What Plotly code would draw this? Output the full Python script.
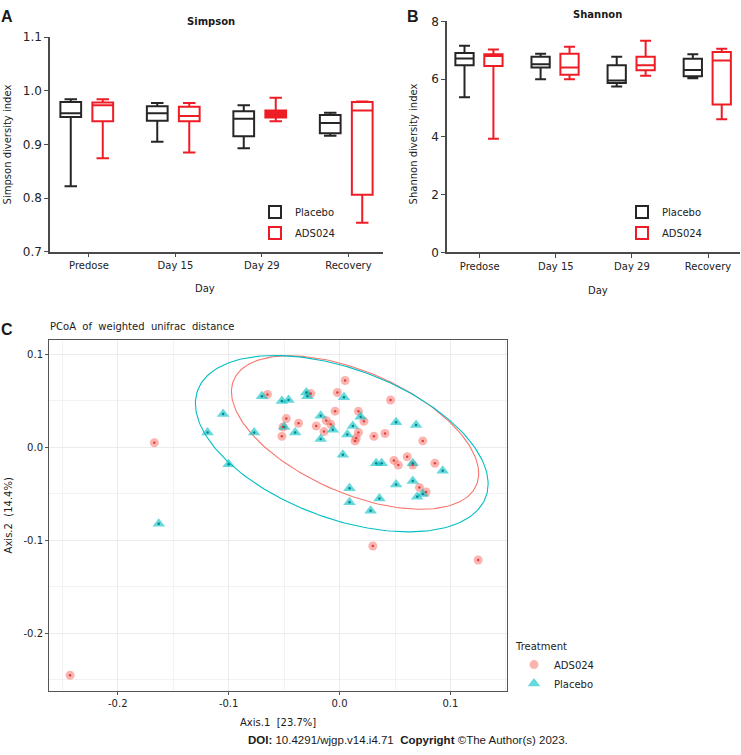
import numpy as np
import plotly.graph_objects as go

W, H = 741, 755

# ---- panel A / B data (box statistics) ----
categories = ["Predose", "Day 15", "Day 29", "Recovery"]

simpson_placebo_low = [0.822, 0.905, 0.893, 0.916]
simpson_placebo_q1 = [0.951, 0.944, 0.915, 0.921]
simpson_placebo_med = [0.958, 0.958, 0.948, 0.940]
simpson_placebo_q3 = [0.979, 0.971, 0.962, 0.955]
simpson_placebo_high = [0.984, 0.977, 0.973, 0.959]

simpson_ads_low = [0.874, 0.885, 0.943, 0.754]
simpson_ads_q1 = [0.943, 0.943, 0.950, 0.806]
simpson_ads_med = [0.973, 0.953, 0.956, 0.963]
simpson_ads_q3 = [0.978, 0.970, 0.963, 0.979]
simpson_ads_high = [0.984, 0.977, 0.987, 0.980]

shannon_placebo_low = [5.37, 6.00, 5.75, 6.03]
shannon_placebo_q1 = [6.48, 6.40, 5.87, 6.10]
shannon_placebo_med = [6.72, 6.52, 5.95, 6.32]
shannon_placebo_q3 = [6.91, 6.78, 6.48, 6.71]
shannon_placebo_high = [7.16, 6.88, 6.78, 6.86]

shannon_ads_low = [3.94, 6.00, 6.12, 4.61]
shannon_ads_q1 = [6.46, 6.15, 6.31, 5.12]
shannon_ads_med = [6.80, 6.40, 6.48, 6.65]
shannon_ads_q3 = [6.86, 6.88, 6.78, 6.94]
shannon_ads_high = [7.03, 7.12, 7.33, 7.05]

simpson_ticks = [0.7, 0.8, 0.9, 1.0, 1.1]
simpson_ticktext = ["0.7", "0.8", "0.9", "1.0", "1.1"]
shannon_ticks = [0, 2, 4, 6, 8]

# ---- panel C data (PCoA coordinates) ----
ads_axis1 = [-0.243, -0.167, -0.065, -0.048, -0.051, -0.052, -0.037, -0.026, -0.021,
             -0.014, -0.012, -0.008, -0.004, -0.002, 0.005, 0.017, 0.022, 0.017,
             0.015, 0.014, 0.031, 0.041, 0.046, 0.075, 0.049, 0.053, 0.061, 0.066,
             0.086, 0.072, 0.078, 0.030, 0.125]
ads_axis2 = [-0.245, 0.005, 0.057, 0.031, 0.022, 0.012, 0.026, 0.058, 0.023,
             0.017, 0.029, 0.025, 0.039, 0.059, 0.072, 0.039, 0.028, 0.016,
             0.010, 0.007, 0.012, 0.015, 0.051, 0.007, -0.014, -0.019, -0.010, -0.019,
             -0.017, -0.043, -0.048, -0.106, -0.121]

placebo_axis1 = [-0.163, -0.119, -0.105, -0.100, -0.077, -0.070, -0.052, -0.046, -0.050,
                 -0.040, -0.030, -0.029, -0.017, -0.017, -0.006, 0.004, 0.003, 0.007,
                 0.012, 0.019, 0.033, 0.038, 0.009, 0.009, 0.036, 0.028, 0.051, 0.069,
                 0.066, 0.093, 0.051, 0.066, 0.070, 0.075]
placebo_axis2 = [-0.082, 0.016, 0.036, -0.018, 0.016, 0.055, 0.050, 0.051, 0.022,
                 0.016, 0.059, 0.055, 0.034, 0.009, 0.019, 0.054, -0.008, 0.014,
                 0.023, 0.033, -0.017, -0.017, -0.044, -0.059, -0.055, -0.068, 0.027, 0.024,
                 -0.017, -0.025, -0.040, -0.036, -0.053, -0.050]

# 95% ellipses: centre and shape matrix
ads_ellipse_center = [0.014, 0.016]
ads_ellipse_shape = [[0.01243, -0.0049], [-0.0049, 0.00681]]
placebo_ellipse_center = [0.002, 0.004]
placebo_ellipse_shape = [[0.01742, -0.0057], [-0.0057, 0.00899]]

pcoa_ticks = [-0.2, -0.1, 0.0, 0.1]
pcoa_ticktext = ["-0.2", "-0.1", "0.0", "0.1"]

PLACEBO = "#262626"
ADS = "#ee1c25"
RED_C = "#F8766D"
CYAN_C = "#00BFC4"
FONT = "DejaVu Sans"


def ellipse_outline(center, shape, n=240):
    vals, vecs = np.linalg.eigh(np.array(shape))
    t = np.linspace(0, 2 * np.pi, n)
    pts = vecs @ np.diag(np.sqrt(vals)) @ np.vstack([np.cos(t), np.sin(t)])
    return center[0] + pts[0], center[1] + pts[1]


fig = go.Figure()


def add_boxes(xa, ya, legend, low, q1, med, q3, high, color, name, offset, filled=None):
    for i in range(len(categories)):
        fig.add_trace(go.Box(
            x=[i + offset], q1=[q1[i]], median=[med[i]], q3=[q3[i]],
            lowerfence=[low[i]], upperfence=[high[i]],
            name=name, legendgroup=name + legend, showlegend=(i == 0), legend=legend,
            xaxis=xa, yaxis=ya,
            line=dict(color=color, width=2),
            fillcolor=color if filled == i else "white",
            width=0.24, whiskerwidth=0.6, boxpoints=False, hoverinfo="skip",
        ))


add_boxes("x", "y", "legend", simpson_placebo_low, simpson_placebo_q1, simpson_placebo_med,
          simpson_placebo_q3, simpson_placebo_high, PLACEBO, "Placebo", -0.21)
add_boxes("x", "y", "legend", simpson_ads_low, simpson_ads_q1, simpson_ads_med,
          simpson_ads_q3, simpson_ads_high, ADS, "ADS024", 0.16, filled=2)
add_boxes("x2", "y2", "legend2", shannon_placebo_low, shannon_placebo_q1, shannon_placebo_med,
          shannon_placebo_q3, shannon_placebo_high, PLACEBO, "Placebo", -0.2)
add_boxes("x2", "y2", "legend2", shannon_ads_low, shannon_ads_q1, shannon_ads_med,
          shannon_ads_q3, shannon_ads_high, ADS, "ADS024", 0.18)

# panel C ellipses
for center, shape, color in [(ads_ellipse_center, ads_ellipse_shape, RED_C),
                             (placebo_ellipse_center, placebo_ellipse_shape, CYAN_C)]:
    ex, ey = ellipse_outline(center, shape)
    fig.add_trace(go.Scatter(x=ex, y=ey, mode="lines", line=dict(color=color, width=1.1),
                             xaxis="x3", yaxis="y3", showlegend=False, hoverinfo="skip"))

fig.add_trace(go.Scatter(
    x=ads_axis1, y=ads_axis2, mode="markers", name="ADS024",
    marker=dict(symbol="circle", size=9, color=RED_C, opacity=0.55),
    xaxis="x3", yaxis="y3", legend="legend3"))
fig.add_trace(go.Scatter(
    x=placebo_axis1, y=placebo_axis2, mode="markers", name="Placebo",
    marker=dict(symbol="triangle-up", size=11, color=CYAN_C, opacity=0.6),
    xaxis="x3", yaxis="y3", legend="legend3"))
fig.add_trace(go.Scatter(
    x=ads_axis1, y=ads_axis2, mode="markers", showlegend=False,
    marker=dict(size=2.5, color="#e0413a"), xaxis="x3", yaxis="y3"))
fig.add_trace(go.Scatter(
    x=placebo_axis1, y=placebo_axis2, mode="markers", showlegend=False,
    marker=dict(size=2.5, color="#00898d"), xaxis="x3", yaxis="y3"))


def dom_x(a, b):
    return [a / W, b / W]


def dom_y(top, bottom):
    return [1 - bottom / H, 1 - top / H]


box_axis = dict(showline=True, linecolor="#4a4a4a", linewidth=1.5, ticks="outside",
                ticklen=4, tickcolor="#4a4a4a", showgrid=False, zeroline=False,
                tickfont=dict(family=FONT, size=10, color="#222"))

fig.update_layout(
    width=W, height=H, margin=dict(l=0, r=0, t=0, b=0),
    paper_bgcolor="white", plot_bgcolor="white",
    font=dict(family=FONT, size=10, color="#222"),
    xaxis=dict(box_axis, domain=dom_x(50, 383), range=[-0.45, 3.4], anchor="y",
               tickvals=[0, 1, 2, 3], ticktext=categories),
    yaxis=dict(box_axis, domain=dom_y(30.7, 249.3), range=[0.7, 1.1], anchor="x",
               tickvals=simpson_ticks, ticktext=simpson_ticktext,
               tickfont=dict(family=FONT, size=12, color="#222")),
    xaxis2=dict(box_axis, domain=dom_x(447, 740), range=[-0.43, 3.42], anchor="y2",
                tickvals=[0, 1, 2, 3], ticktext=categories),
    yaxis2=dict(box_axis, domain=dom_y(14.7, 250), range=[0, 8], anchor="x2",
                tickvals=shannon_ticks, tickfont=dict(family=FONT, size=12, color="#222")),
    xaxis3=dict(domain=dom_x(49, 507), range=[-0.262, 0.151], anchor="y3",
                showline=True, mirror=True, linecolor="#555", linewidth=1,
                ticks="outside", ticklen=3, tickcolor="#555", zeroline=False,
                tickvals=pcoa_ticks, ticktext=pcoa_ticktext,
                showgrid=True, gridcolor="#ebebeb", gridwidth=1,
                minor=dict(tickmode="linear", tick0=0.05, dtick=0.1, showgrid=True,
                           gridcolor="#f2f2f2", gridwidth=1, ticks=""),
                tickfont=dict(family=FONT, size=10, color="#222")),
    yaxis3=dict(domain=dom_y(339, 697), range=[-0.262, 0.1158], anchor="x3",
                showline=True, mirror=True, linecolor="#555", linewidth=1,
                ticks="outside", ticklen=3, tickcolor="#555", zeroline=False,
                tickvals=pcoa_ticks, ticktext=pcoa_ticktext,
                showgrid=True, gridcolor="#ebebeb", gridwidth=1,
                minor=dict(tickmode="linear", tick0=0.05, dtick=0.1, showgrid=True,
                           gridcolor="#f2f2f2", gridwidth=1, ticks=""),
                tickfont=dict(family=FONT, size=10, color="#222")),
    legend=dict(x=255 / W, y=1 - 194 / H, xanchor="left", yanchor="top",
                bgcolor="rgba(0,0,0,0)", font=dict(family=FONT, size=10), tracegroupgap=2),
    legend2=dict(x=622 / W, y=1 - 194 / H, xanchor="left", yanchor="top",
                 bgcolor="rgba(0,0,0,0)", font=dict(family=FONT, size=10), tracegroupgap=2),
    legend3=dict(x=514 / W, y=1 - 642 / H, xanchor="left", yanchor="top",
                 bgcolor="rgba(0,0,0,0)", font=dict(family=FONT, size=10), itemwidth=30,
                 title=dict(text="Treatment", font=dict(family=FONT, size=10))),
)


def label(text, x, y, size=10, bold=False, angle=0, xanchor="center", family=FONT):
    fig.add_annotation(text=f"<b>{text}</b>" if bold else text, x=x / W, y=1 - y / H,
                       xref="paper", yref="paper", showarrow=False, textangle=angle,
                       xanchor=xanchor, yanchor="middle",
                       font=dict(family=family, size=size, color="#1a1a1a"))


label("A", 7, 10, size=16, bold=True, family="Liberation Sans")
label("B", 413, 10, size=16, bold=True, family="Liberation Sans")
label("C", 7, 329, size=16, bold=True, family="Liberation Sans")
label("Simpson", 211, 15, bold=True)
label("Shannon", 597, 8, bold=True)
label("Simpson diversity index", 7, 140, angle=-90)
label("Shannon diversity index", 413, 140, angle=-90)
label("Day", 205, 287)
label("Day", 598, 289)
label("PCoA  of  weighted  unifrac  distance", 48, 326, xanchor="left")
label("Axis.1  [23.7%]", 278, 729)
label("Axis.2  (14.4%)", 8, 518, angle=-90)
label("<b>DOI:</b> 10.4291/wjgp.v14.i4.71  <b>Copyright</b> ©The Author(s) 2023.",
      408, 747, size=11.5, family="Liberation Sans")

# the page body normally carries an 8px margin; drop it so the figure sits at (0, 0)
fig.write_html("out.html", config={"displayModeBar": False},
               post_script="document.body.style.margin='0px';"
                           "document.body.style.overflow='hidden';")
